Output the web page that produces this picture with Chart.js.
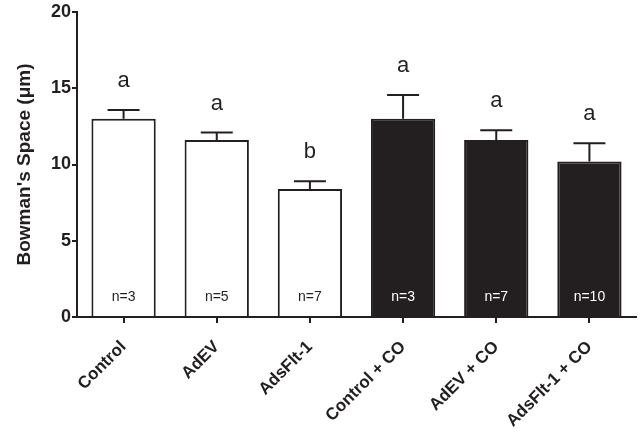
<!DOCTYPE html>
<html>
<head>
<meta charset="utf-8">
<script src="https://cdn.jsdelivr.net/npm/chart.js@4.4.0/dist/chart.umd.min.js"></script>
<style>
  html, body { margin:0; padding:0; background:#fff; }
  #wrap { width:644px; height:437px; }
</style>
</head>
<body>
<div id="wrap"><canvas id="bowman"></canvas></div>
<script>
const groups = ['Control', 'AdEV', 'AdsFlt-1', 'Control + CO', 'AdEV + CO', 'AdsFlt-1 + CO'];
const means = [13.0, 11.6, 8.4, 13.0, 11.6, 10.2];
const sems = [0.57, 0.5, 0.5, 1.55, 0.65, 1.2];
const letters = ['a', 'a', 'b', 'a', 'a', 'a'];
const counts = [3, 5, 7, 3, 7, 10];
const yTicks = [0, 5, 10, 15, 20];

const ink = '#231f20';
const fills = groups.map((g, i) => i < 3 ? '#ffffff' : ink);
const font = '"Liberation Sans", Arial, sans-serif';

// error bars, significance letters and n= labels
const annotations = {
  id: 'annotations',
  afterDatasetsDraw(chart) {
    const { ctx, scales: { x, y } } = chart;
    ctx.save();
    ctx.strokeStyle = ink;
    ctx.lineWidth = 2;
    means.forEach((m, i) => {
      const cx = x.getPixelForValue(i);
      const top = y.getPixelForValue(m + sems[i]);
      ctx.beginPath();
      ctx.moveTo(cx, y.getPixelForValue(m));
      ctx.lineTo(cx, top);
      ctx.moveTo(cx - 16, top);
      ctx.lineTo(cx + 16, top);
      ctx.stroke();

      ctx.fillStyle = ink;
      ctx.font = '22px ' + font;
      ctx.textAlign = 'center';
      ctx.textBaseline = 'middle';
      ctx.fillText(letters[i], cx, top - 29);

      ctx.fillStyle = i < 3 ? ink : '#ffffff';
      ctx.font = '14px ' + font;
      ctx.fillText('n=' + counts[i], cx, y.getPixelForValue(0) - 20);
    });
    ctx.restore();
  }
};

new Chart(document.getElementById('bowman'), {
  type: 'bar',
  data: {
    labels: groups,
    datasets: [{
      data: means,
      backgroundColor: fills,
      borderColor: ink,
      borderWidth: 2,
      categoryPercentage: 1,
      barPercentage: 0.69
    }]
  },
  options: {
    responsive: true,
    maintainAspectRatio: false,
    animation: false,
    layout: { padding: { top: 12, right: 8, left: 13, bottom: 0 } },
    plugins: { legend: { display: false }, tooltip: { enabled: false } },
    scales: {
      x: {
        grid: { display: true, offset: false, drawOnChartArea: false, drawTicks: true, tickLength: 6, color: ink, lineWidth: 2 },
        border: { color: ink, width: 2 },
        ticks: {
          color: ink,
          maxRotation: 45,
          minRotation: 45,
          padding: 14,
          font: { family: font, size: 17, weight: 'bold' }
        },
        afterFit(scale) { scale.height = 120; }
      },
      y: {
        min: 0,
        max: 20,
        afterBuildTicks(scale) { scale.ticks = yTicks.map(v => ({ value: v })); },
        grid: { display: true, drawOnChartArea: false, drawTicks: true, tickLength: 5, color: ink, lineWidth: 2 },
        border: { color: ink, width: 2 },
        ticks: {
          color: ink,
          padding: 1,
          font: { family: font, size: 18, weight: 'bold' }
        },
        title: {
          display: true,
          text: "Bowman's Space (\u03bcm)",
          color: ink,
          padding: { top: 0, bottom: 8 },
          font: { family: font, size: 19, weight: 'bold' }
        },
        afterFit(scale) { scale.width = 64; }
      }
    }
  },
  plugins: [annotations]
});
</script>
</body>
</html>
